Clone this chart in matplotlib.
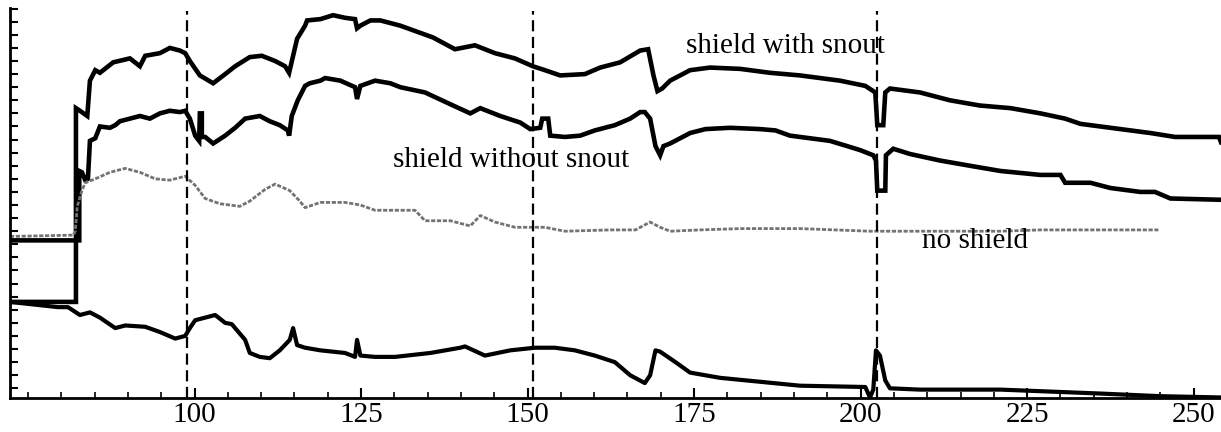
import matplotlib
matplotlib.use("Agg")
import matplotlib.pyplot as plt

plt.rcParams['font.family'] = ['Liberation Serif', 'DejaVu Serif']

snout_x = [72.3, 82.2, 82.2, 82.8, 83.9, 84.3, 85.1, 85.8, 87.8, 90.3, 91.8, 92.6, 94.8, 96.3,
           97.8, 98.6, 99.3, 100.8, 102.8, 104.6, 106.1, 108.3, 110.1, 112.1, 113.6, 114.2,
           114.8, 115.4, 116.6, 116.9, 118.9, 120.8, 122.6, 124.1, 124.4, 124.9, 126.4, 127.9,
           130.9, 135.8, 139.1, 142.1, 145.1, 148.1, 150.8, 152.6, 154.9, 158.6, 160.9, 163.9,
           166.9, 168.1, 168.9, 169.5, 170.2, 171.4, 174.4, 177.4, 181.9, 186.4, 190.9, 196.9,
           200.7, 202.2, 202.5, 203.4, 203.7, 204.4, 208.9, 213.4, 217.9, 222.5, 227.0, 230.7,
           233.0, 239.0, 243.5, 247.2, 253.8, 254.1]
snout_y = [6.6, 6.6, 21.4, 21.2, 20.8, 23.5, 24.3, 24.1, 24.9, 25.2, 24.6, 25.4, 25.6, 26.0,
           25.8, 25.6, 25.0, 23.9, 23.3, 24.0, 24.6, 25.3, 25.4, 25.0, 24.6, 24.1,
           25.4, 26.7, 27.7, 28.1, 28.2, 28.5, 28.3, 28.2, 27.5, 27.7, 28.1, 28.1,
           27.7, 26.8, 25.9, 26.2, 25.6, 25.2, 24.6, 24.3, 23.9, 24.0, 24.5, 24.9,
           25.8, 25.9, 23.9, 22.7, 22.9, 23.5, 24.3, 24.5, 24.4, 24.1, 23.9, 23.5,
           23.1, 22.6, 20.1, 20.1, 22.6, 22.9, 22.6, 22.0, 21.6, 21.4, 21.0, 20.6,
           20.2, 19.8, 19.5, 19.2, 19.2, 18.8]

nosnout_x = [72.3, 82.7, 82.7, 83.1, 83.6, 84.0, 84.3, 85.1, 85.8, 87.3, 88.1, 88.8, 90.3, 91.8,
             93.3, 94.8, 96.3, 97.8, 98.6, 99.3, 100.1, 100.7, 100.8, 101.1, 101.1, 101.6,
             102.8, 104.6, 106.1, 107.6, 109.8, 111.3, 112.8, 114.0, 114.2, 114.6, 115.5,
             116.6, 117.3, 118.9, 119.6, 121.9, 124.1, 124.4, 124.9, 127.1, 129.4, 130.9,
             134.6, 138.4, 141.4, 142.9, 145.9, 148.9, 150.4, 151.9, 152.2, 153.1, 153.4,
             155.6, 157.9, 160.1, 163.1, 165.4, 166.9, 167.6, 168.4, 169.2, 169.9, 170.4,
             171.4, 174.4, 176.7, 180.4, 184.9, 187.2, 189.4, 190.9, 195.4, 199.9, 201.9,
             202.3, 202.5, 203.7, 203.8, 204.9, 207.4, 211.9, 216.4, 221.0, 227.0, 230.0,
             230.7, 234.5, 237.5, 242.0, 244.2, 246.5, 254.1]
nosnout_y = [11.3, 11.3, 16.6, 16.5, 15.9, 16.0, 18.9, 19.1, 20.0, 19.9, 20.1, 20.4, 20.6, 20.8,
             20.6, 21.0, 21.2, 21.1, 21.2, 20.6, 19.3, 18.9, 21.0, 21.0, 19.2, 19.2,
             18.7, 19.3, 19.9, 20.6, 20.8, 20.4, 20.1, 19.7, 19.3, 20.8, 22.0,
             23.1, 23.3, 23.5, 23.7, 23.5, 23.0, 22.1, 23.1, 23.5, 23.3, 23.0,
             22.6, 21.7, 21.0, 21.4, 20.8, 20.3, 19.8, 19.9, 20.6, 20.6, 19.3,
             19.2, 19.3, 19.7, 20.1, 20.6, 21.1, 21.1, 20.6, 18.5, 17.8, 18.5,
             18.7, 19.5, 19.8, 19.9, 19.8, 19.7, 19.3, 19.2, 18.9, 18.2, 17.8,
             17.4, 15.1, 15.1, 17.8, 18.3, 17.9, 17.4, 17.0, 16.6, 16.3, 16.3,
             15.7, 15.7, 15.3, 15.0, 15.0, 14.5, 14.4]

noshield_x = [72.3, 81.8, 82.1, 82.4, 83.1, 83.6, 85.1, 87.3, 89.6, 91.8, 94.1, 96.3, 98.6, 100.1,
              101.6, 103.8, 106.8, 108.3, 110.6, 112.1, 114.3, 115.8, 116.6, 118.9, 122.6,
              124.9, 127.1, 130.1, 133.1, 134.6, 138.4, 141.4, 142.9, 145.1, 148.1, 150.4,
              152.6, 155.6, 162.4, 166.2, 168.4, 169.9, 171.4, 175.9, 181.9, 190.9, 201.4,
              205.9, 221.0, 227.0, 244.7]
noshield_y = [11.6, 11.7, 12.0, 13.9, 15.1, 15.7, 16.0, 16.5, 16.8, 16.5, 16.0, 15.9, 16.2, 15.5,
              14.5, 14.1, 13.9, 14.3, 15.2, 15.6, 15.1, 14.3, 13.8, 14.2, 14.2,
              14.0, 13.6, 13.6, 13.6, 12.8, 12.8, 12.4, 13.2, 12.7, 12.3, 12.3,
              12.3, 12.0, 12.1, 12.1, 12.7, 12.3, 12.0, 12.1, 12.2, 12.2, 12.0,
              12.0, 12.0, 12.1, 12.1]

bottom_x = [72.3, 79.5, 81.0, 82.8, 84.3, 85.8, 88.1, 89.6, 92.6, 94.8, 97.1, 98.6, 99.3, 100.1,
            101.6, 103.1, 104.6, 105.6, 107.6, 108.3, 109.8, 111.3, 112.8, 114.3, 114.8, 115.4,
            116.6, 118.9, 122.6, 124.1, 124.4, 124.9, 127.1, 130.1, 135.4, 139.9, 140.6, 143.6,
            147.4, 151.1, 154.1, 157.1, 160.1, 163.1, 165.4, 167.6, 168.4, 169.2, 169.9, 172.2,
            174.4, 178.9, 184.9, 190.9, 200.7, 201.4, 201.9, 202.3, 202.9, 203.7, 204.4, 208.9,
            221.0, 236.0, 245.0, 254.1]
bottom_y = [6.6, 6.2, 6.2, 5.6, 5.8, 5.4, 4.6, 4.8, 4.7, 4.3, 3.8, 4.0, 4.6, 5.2,
            5.4, 5.6, 5.0, 4.9, 3.7, 2.7, 2.4, 2.3, 2.9, 3.7, 4.6, 3.3,
            3.1, 2.9, 2.7, 2.4, 3.7, 2.5, 2.4, 2.4, 2.7, 3.1, 3.2, 2.5,
            2.9, 3.1, 3.1, 2.9, 2.5, 2.0, 1.0, 0.4, 1.0, 2.9, 2.8, 2.0,
            1.2, 0.8, 0.5, 0.2, 0.1, -0.7, -0.1, 2.9, 2.5, 0.6, 0.0, -0.1,
            -0.1, -0.4, -0.6, -0.7]

edges = [98.9, 150.8, 202.4]
major_ticks = [100, 125, 150, 175, 200, 225, 250]

fig = plt.figure(figsize=(12.21, 4.32), dpi=100)
ax = fig.add_axes([10 / 1221, 34 / 432, 1211 / 1221, 390 / 432])

ax.plot(snout_x, snout_y, color='black', lw=3.3, solid_joinstyle='miter')
ax.plot(nosnout_x, nosnout_y, color='black', lw=3.3, solid_joinstyle='miter')
ax.plot(noshield_x, noshield_y, color='0.45', lw=2.0, ls=(0, (1.5, 0.6)))
ax.plot(bottom_x, bottom_y, color='black', lw=3.0)

for e in edges:
    ax.plot([e, e], [-0.74, 28.8], color='black', lw=1.6, ls=(0, (5, 2.5)))

ax.text(173.8, 25.6, 'shield with snout', fontsize=21, va='baseline')
ax.text(129.8, 16.9, 'shield without snout', fontsize=21, va='baseline')
ax.text(209.2, 10.7, 'no shield', fontsize=21, va='baseline')

ax.set_xlim(72.3, 254.1)
ax.set_ylim(-0.74, 29.05)
ax.set_xticks(major_ticks)
ax.set_xticks(range(75, 255, 5), minor=True)
ax.set_yticks(range(0, 30))
ax.set_yticklabels([])
ax.tick_params(axis='both', which='major', direction='in', length=7, width=1.5,
               labelsize=21, pad=3)
ax.tick_params(axis='x', which='minor', direction='in', length=4, width=1.2)
ax.tick_params(axis='y', which='major', length=6)

for s in ['top', 'right']:
    ax.spines[s].set_visible(False)
for s in ['left', 'bottom']:
    ax.spines[s].set_linewidth(2.0)

fig.savefig('out.png', dpi=100)
